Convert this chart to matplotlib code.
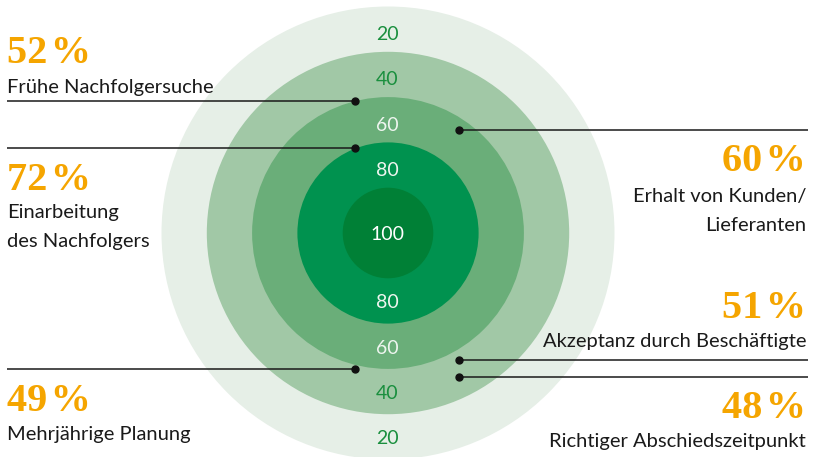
import numpy as np
import matplotlib
matplotlib.use("Agg")
import matplotlib.pyplot as plt
from matplotlib.patches import Circle

# Ringe (Skala), von außen nach innen
ring_values = [20, 40, 60, 80, 100]
ring_colors = ["#e6efe7", "#a1c8a6", "#6aae79", "#00924f", "#008036"]
ring_label_colors = ["#1a8f3e", "#1a8f3e", "#eef5ef", "#eef5ef", "#ffffff"]

# Aussagen
percents = [52, 72, 60, 51, 48, 49]
labels = ["Frühe Nachfolgersuche",
          "Einarbeitung\ndes Nachfolgers",
          "Erhalt von Kunden/\nLieferanten",
          "Akzeptanz durch Beschäftigte",
          "Richtiger Abschiedszeitpunkt",
          "Mehrjährige Planung"]
# Lage der Punkte auf der Ringskala (Skalenwert, Winkel in Grad)
dot_scale = [60, 79.8, 64.7, 55.8, 49.3, 58.1]
dot_angle = [103.9, 111.0, 55.6, -60.9, -63.8, -103.5]
sides = ["left", "left", "right", "right", "right", "left"]

W, H = 813, 457
cx, cy = 388, 233
step = 45.3


def radius(v):
    return (120 - v) / 20 * step


fig = plt.figure(figsize=(W / 100, H / 100), dpi=100)
ax = fig.add_axes([0, 0, 1, 1])
ax.set_xlim(0, W)
ax.set_ylim(H, 0)
ax.axis("off")

for v, c in zip(ring_values, ring_colors):
    ax.add_patch(Circle((cx, cy), radius(v), color=c, lw=0, zorder=1))

# Ringbeschriftung oben und unten
for v, c in zip(ring_values, ring_label_colors):
    if v == 100:
        ax.text(cx - 1, cy + 1, str(v), color=c, fontsize=14, family="Lato",
                ha="center", va="center", zorder=3)
        continue
    mid = (radius(v) + radius(v + 20)) / 2
    ax.text(cx - 1, cy - mid + 5.5, str(v), color=c, fontsize=14,
            family="Lato", ha="center", va="center", zorder=3)
    ax.text(cx - 1, cy + mid + 2, str(v), color=c, fontsize=14,
            family="Lato", ha="center", va="center", zorder=3)

# Punkte und Linien
for i in range(len(percents)):
    r = radius(dot_scale[i])
    a = np.radians(dot_angle[i])
    px = cx + r * np.cos(a)
    py = cy - r * np.sin(a)
    x_end = 7 if sides[i] == "left" else 808
    ax.plot([px, x_end], [py, py], color="#1a1a1a", lw=1.1, zorder=4,
            solid_capstyle="butt")
    ax.plot(px, py, "o", color="#111111", ms=5, zorder=5)

# Texte: (x, Baseline Prozent, Baseline Text)
text_pos = [(7, 63, 92.5), (7, 190, 218), (806, 171, 202), (806, 318, 346.5),
            (806, 418, 446.5), (7, 411, 440)]
for i in range(len(percents)):
    x, yb_pct, yb_lab = text_pos[i]
    ha = "left" if sides[i] == "left" else "right"
    ax.text(x, yb_pct, f"{percents[i]}\u200a%", color="#f5a500", fontsize=29,
            family=["Liberation Serif", "DejaVu Serif"], weight="bold",
            ha=ha, va="baseline")
    lines = labels[i].split("\n")
    for j, ln in enumerate(lines):
        ax.text(x, yb_lab + j * 29, ln, color="#1a1a1a", fontsize=14.5,
                family="Lato", ha=ha, va="baseline")

fig.savefig("out.png", dpi=100)
